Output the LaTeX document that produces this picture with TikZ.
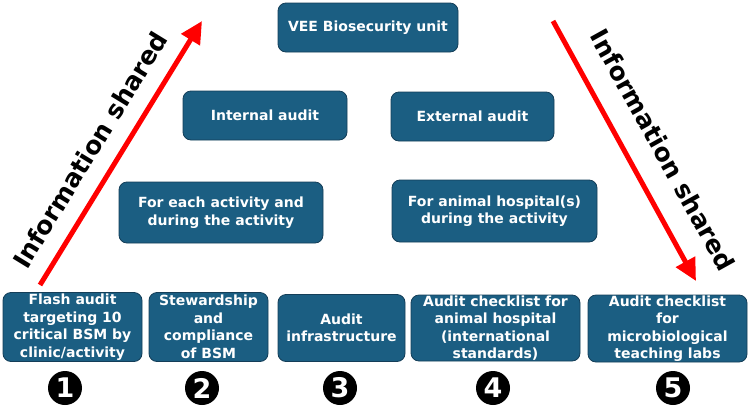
\documentclass[tikz,border=0pt]{standalone}
\usepackage{fontspec}
\setmainfont{DejaVu Sans}
\usetikzlibrary{arrows.meta}
\definecolor{boxfill}{RGB}{27,94,130}
\definecolor{boxline}{RGB}{20,62,88}
\tikzset{
  box/.style={draw=boxline, line width=0.8pt, fill=boxfill, rounded corners=8pt,
    text=white, font=\bfseries\fontsize{14}{17.5}\selectfont, align=center, inner sep=0pt},
  redarrow/.style={draw=red, line width=5pt, -{Triangle[length=22pt,width=21pt]}},
  sidelabel/.style={font=\bfseries\fontsize{25}{28}\selectfont, text=black},
  numcircle/.style={circle, fill=black, minimum size=34pt, inner sep=0pt, text=white,
    font=\bfseries\fontsize{27}{27}\selectfont}
}
\begin{document}
\begin{tikzpicture}[x=1pt,y=-1pt]
\useasboundingbox (0,0) rectangle (750,413);
\node[box, minimum width=180pt, minimum height=49pt] (vee) at (368,27.5) {VEE Biosecurity unit};
\node[box, minimum width=164pt, minimum height=49pt] (int) at (265,115.5) {Internal audit};
\node[box, minimum width=163pt, minimum height=49pt] (ext) at (472.5,116.5) {External audit};
\node[box, minimum width=204pt, minimum height=61pt] (each) at (221,212.5) {For each activity and\\during the activity};
\node[box, minimum width=205pt, minimum height=62pt] (hosp) at (494.5,211) {For animal hospital(s)\\during the activity};
\node[box, minimum width=139pt, minimum height=69pt] (b1) at (72.5,327) {Flash audit\\targeting 10\\critical BSM by\\clinic/activity};
\node[box, minimum width=119pt, minimum height=69pt] (b2) at (208.5,327) {Stewardship\\and\\compliance\\of BSM};
\node[box, minimum width=127pt, minimum height=67pt] (b3) at (341.5,328) {Audit\\infrastructure};
\node[box, minimum width=169pt, minimum height=66pt] (b4) at (495.5,328) {Audit checklist for\\animal hospital\\(international\\standards)};
\node[box, minimum width=159pt, minimum height=67pt] (b5) at (667.5,328.5) {Audit checklist\\for\\microbiological\\teaching labs};
\node[numcircle] (n1) at (65,388) {1};
\node[numcircle] (n2) at (202,388) {2};
\node[numcircle] (n3) at (340,388) {3};
\node[numcircle] (n4) at (493,388) {4};
\node[numcircle] (n5) at (673,388) {5};
\coordinate (la1) at (40,285);
\coordinate (la2) at (202,21);
\coordinate (ra1) at (553,21);
\coordinate (ra2) at (696,281);
\draw[redarrow] (la1) -- (la2);
\draw[redarrow] (ra1) -- (ra2);
\node[sidelabel, rotate=58.5] (lt) at (90,150) {Information shared};
\node[sidelabel, rotate=-61] (rt) at (663,150) {Information shared};
\end{tikzpicture}
\end{document}
